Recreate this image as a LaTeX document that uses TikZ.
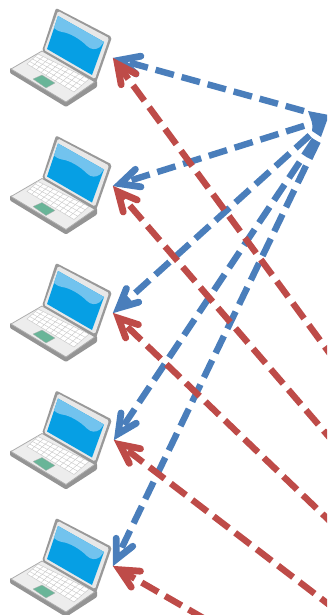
\documentclass[tikz,border=0pt]{standalone}
\usetikzlibrary{calc}
\definecolor{linkblue}{HTML}{4A7EBB}
\definecolor{linkred}{HTML}{BE4B48}
\definecolor{screenblue}{HTML}{069FE4}
\definecolor{screenlight}{HTML}{72C3EE}
\definecolor{padgreen}{HTML}{69B598}
\tikzset{
  x=1pt,y=-1pt,
  linkline/.style={line width=6.4pt,dash pattern=on 19pt off 8pt},
  barbline/.style={line width=6.8pt,line cap=round,miter limit=10},
  laptop/.pic={
    % base
    \fill[black!42,rounded corners=1pt] (10,68) -- (10,73) -- (66,107) -- (97,87) -- (97,81) -- cycle;
    \fill[black!7,draw=black!32,line width=.8pt,line join=round] (11,69) -- (42,51) -- (96,81) -- (66,102) -- cycle;
    % keyboard
    \fill[white,draw=black!20,line width=.5pt] (27,64) -- (38,54) -- (89,79) -- (74,92) -- cycle;
    \foreach \i in {1,...,9}{
      \draw[black!22,line width=.4pt] ({27+\i*4.7},{64+\i*2.8}) -- ({38+\i*5.1},{54+\i*2.5});}
    \foreach \i in {1,2,3}{
      \draw[black!22,line width=.4pt] ({27+\i*2.75},{64-\i*2.5}) -- ({74+\i*3.75},{92-\i*3.25});}
    % touchpad
    \fill[padgreen,draw=black!30,line width=.3pt,line join=round] (33,79) -- (42,75) -- (55,83) -- (46,88) -- cycle;
    % lid
    \fill[black!40,rounded corners=2pt] (42,51) -- (56,8) -- (112,37) -- (96,83) -- cycle;
    \fill[black!9,rounded corners=1.5pt] (44,50) -- (58,11) -- (109,38) -- (95,79) -- cycle;
    % screen
    \fill[screenblue] (47,49) -- (58,16) -- (104,42) -- (92,75) -- cycle;
    \fill[screenlight] (54,28) -- (58,16) -- (104,42) -- (100,47)
       .. controls (96,50) and (91,50) .. (87,46)
       .. controls (80,39) and (70,33) .. (62,32)
       .. controls (58,31) and (56,30) .. cycle;
  }
}
% \linkbarb{colour}{tip}{far end}: the solid open arrowhead whose point is the tip
\newcommand{\linkbarb}[3]{%
  \coordinate (v) at ($(#2)!7.5pt!(#3)$);
  \draw[barbline,#1] ($(v)!21pt!26:(#3)$) -- (v) -- ($(v)!21pt!-26:(#3)$);
}
\begin{document}
\begin{tikzpicture}
\useasboundingbox (0,0) rectangle (327,615);
\clip (0,0) rectangle (327,615);
\coordinate (hub) at (329,118);
\coordinate (r1) at (336,362);
\coordinate (r2) at (336,445);
\coordinate (r3) at (336,527);
\coordinate (r4) at (336,610);
\coordinate (r5) at (205,619);
\coordinate (t1) at (113,58);
\coordinate (t2) at (113,186);
\coordinate (t3) at (113,313);
\coordinate (t4) at (114,440);
\coordinate (t5) at (113,566);
\foreach \n/\dy in {l1/0,l2/127.5,l3/255,l4/382.5,l5/510}{
  \pic (\n) at (0,\dy) {laptop};
}
\foreach \t in {t1,t2,t3,t4,t5}{
  \draw[linkline,linkblue] ($(hub)!26pt!(\t)$) -- ($(\t)!8pt!(hub)$);
  \linkbarb{linkblue}{\t}{hub}
}
\fill[linkblue] (308,111) -- (329,115) -- (321,137) -- (312,131)
  .. controls (314,124) and (310,118) .. cycle;
\foreach \t/\r in {t1/r1,t2/r2,t3/r3,t4/r4,t5/r5}{
  \draw[linkline,linkred] (\r) -- ($(\t)!8pt!(\r)$);
  \linkbarb{linkred}{\t}{\r}
}
\end{tikzpicture}
\end{document}
